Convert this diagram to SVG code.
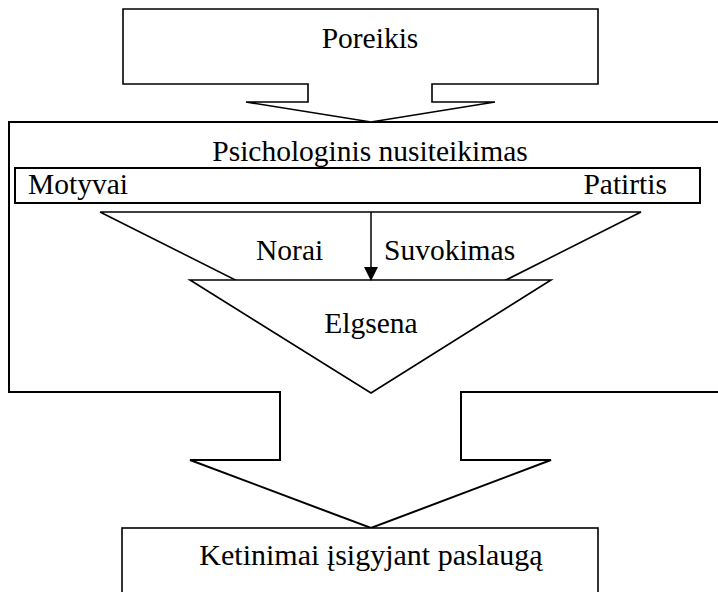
<svg xmlns="http://www.w3.org/2000/svg" width="718" height="592" viewBox="0 0 718 592">
<style>
.s{fill:#fff;stroke:#000;stroke-width:1.6;stroke-linejoin:miter}
text{font-family:'Liberation Serif','DejaVu Serif',serif;font-size:29.5px;fill:#000}
</style>
<defs>
<marker id="ah" markerWidth="14" markerHeight="14" refX="13" refY="7" orient="auto" markerUnits="userSpaceOnUse">
<path d="M0,0 L14,7 L0,14 Z" fill="#000"/>
</marker>
</defs>
<rect width="718" height="592" fill="#fff"/>
<g id="psichologinis">
<path class="s" style="stroke-width:2" d="M9,122 L730,122 L730,392 L461,392 L461,460 L551,460 L371,528 L190,460 L280,460 L280,392 L9,392 Z"/>
<text font-family="Liberation Serif, serif" x="370" y="161" text-anchor="middle">Psichologinis nusiteikimas</text>
</g>
<g id="poreikis">
<path class="s" d="M123,9 L598,9 L598,84 L432,84 L432,102 L495,102 L371,122 L246,102 L308,102 L308,84 L123,84 Z"/>
<text font-family="Liberation Serif, serif" x="370" y="48" text-anchor="middle">Poreikis</text>
</g>
<g id="bar">
<rect class="s" style="stroke-width:2" x="15" y="168" width="685" height="35"/>
<text font-family="Liberation Serif, serif" x="28" y="194">Motyvai</text>
<text font-family="Liberation Serif, serif" x="667" y="194" text-anchor="end">Patirtis</text>
</g>
<g id="noraiSuvokimas">
<path class="s" d="M100,212 L641,212 L371,348 Z"/>
<text font-family="Liberation Serif, serif" x="256" y="260">Norai</text>
<text font-family="Liberation Serif, serif" x="384" y="260">Suvokimas</text>
</g>
<g id="elgsena">
<path class="s" d="M190,280 L551,280 L371,393 Z"/>
<text font-family="Liberation Serif, serif" x="371" y="333" text-anchor="middle">Elgsena</text>
</g>
<g id="ketinimai">
<rect class="s" x="122" y="528" width="476" height="70"/>
<text font-family="Liberation Serif, serif" x="371" y="565" text-anchor="middle" style="font-size:30px">Ketinimai įsigyjant paslaugą</text>
</g>
<g id="connectors">
<line x1="371" y1="212" x2="371" y2="280" stroke="#000" stroke-width="1.5" marker-end="url(#ah)"/>
</g>
</svg>
